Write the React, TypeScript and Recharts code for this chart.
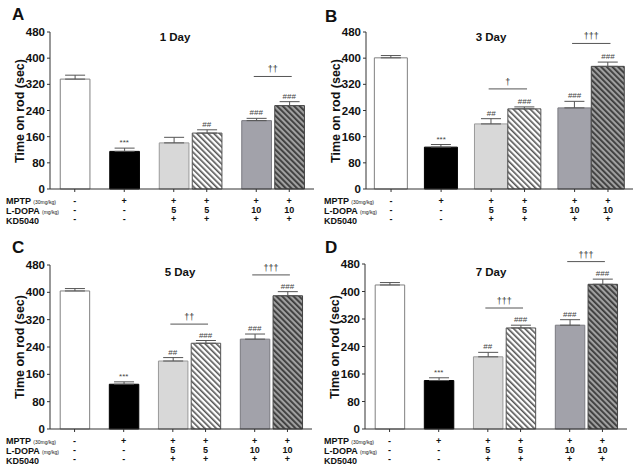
import React from "react";
import {
  ComposedChart,
  Bar,
  Cell,
  XAxis,
  YAxis,
  ErrorBar,
  Scatter,
  ReferenceLine,
} from "recharts";

// treatment table under the x axis
const mptpRow = ["-", "+", "+", "+", "+", "+"];
const ldopaRow = ["-", "-", "5", "5", "10", "10"];
const kdRow = ["-", "-", "+", "+", "+", "+"];
const yTicks = [0, 80, 160, 240, 320, 400, 480];

// time on rod (sec), mean and sem per group
const day1Mean = [336, 115, 141, 171, 209, 255];
const day1Sem = [12, 10, 17, 10, 7, 12];
const day1Sig = ["", "***", "", "##", "###", "###"];
const day1Brackets = [{ a: 4, b: 5, mark: "††", y: 344 }];

const day3Mean = [401, 128, 199, 245, 248, 375];
const day3Sem = [7, 8, 16, 6, 20, 13];
const day3Sig = ["", "***", "##", "###", "###", "###"];
const day3Brackets = [
  { a: 2, b: 3, mark: "†", y: 306 },
  { a: 4, b: 5, mark: "†††", y: 445 },
];

const day5Mean = [404, 131, 199, 251, 263, 390];
const day5Sem = [7, 7, 10, 8, 15, 12];
const day5Sig = ["", "***", "##", "###", "###", "###"];
const day5Brackets = [
  { a: 2, b: 3, mark: "††", y: 307 },
  { a: 4, b: 5, mark: "†††", y: 451 },
];

const day7Mean = [419, 141, 210, 294, 302, 421];
const day7Sem = [7, 8, 13, 8, 16, 15];
const day7Sig = ["", "***", "##", "###", "###", "###"];
const day7Brackets = [
  { a: 2, b: 3, mark: "†††", y: 352 },
  { a: 4, b: 5, mark: "†††", y: 487 },
];

// layout: bar centres on a 0..16 axis measured in half bar widths
const slots = [1.5, 4.5, 7.5, 9.5, 12.5, 14.5];
const fills = ["#ffffff", "#000000", "#d8d8d8", "url(#hatchLight)", "#a2a2aa", "url(#hatchDark)"];
const strokes = ["#808080", "#000000", "#9a9a9a", "#555555", "#7a7a80", "#444444"];

const FONT = "'Liberation Sans', Arial, sans-serif";

const RowTick = ({ x, y, payload }: any) => {
  const i = slots.indexOf(payload.value);
  return (
    <g>
      {[mptpRow, ldopaRow, kdRow].map((row, r) => (
        <text
          key={r}
          x={x}
          y={y + 9 + r * 9}
          textAnchor="middle"
          dominantBaseline="central"
          fontSize={9}
          fontWeight="bold"
          fontFamily={FONT}
          fill="#111"
        >
          {row[i]}
        </text>
      ))}
    </g>
  );
};

const SigMark = (p: any) => {
  if (!p.payload.sig) return <g />;
  return (
    <text
      x={p.cx}
      y={p.cy - 3}
      textAnchor="middle"
      fontSize={8}
      fontFamily={FONT}
      fill="#444"
    >
      {p.payload.sig}
    </text>
  );
};

const DaggerLabel = ({ viewBox, value }: any) => (
  <text
    x={viewBox.x + viewBox.width / 2}
    y={viewBox.y - 4}
    textAnchor="middle"
    fontSize={9}
    fontFamily={FONT}
    fill="#333"
  >
    {value}
  </text>
);

function Panel({ letter, title, mean, sem, sig, brackets, geo }: any) {
  const data = mean.map((m: number, i: number) => ({
    pos: slots[i],
    mean: m,
    err: [0, sem[i]],
    top: m + sem[i],
    sig: sig[i],
  }));
  const h = 236;
  const axisH = 40;
  return (
    <div style={{ position: "absolute", left: geo.x, top: geo.y, width: 318, height: h }}>
      <ComposedChart
        width={318}
        height={h}
        data={data}
        margin={{ top: geo.top, left: geo.axis - 40, right: 318 - geo.right, bottom: h - geo.bottom - axisH }}
      >
        <XAxis
          dataKey="pos"
          type="number"
          domain={[0, 16]}
          ticks={slots}
          interval={0}
          height={axisH}
          tickSize={3}
          tickMargin={0}
          tick={<RowTick />}
          axisLine={{ stroke: "#333" }}
          tickLine={{ stroke: "#333" }}
        />
        <YAxis
          type="number"
          domain={[0, 480]}
          ticks={yTicks}
          interval={0}
          width={40}
          tickSize={3}
          tickMargin={2}
          axisLine={{ stroke: "#333" }}
          tickLine={{ stroke: "#333" }}
          tick={{ fontSize: 11.5, fontWeight: "bold", fill: "#111", fontFamily: FONT }}
        />
        <Bar dataKey="mean" barSize={33} isAnimationActive={false}>
          {data.map((_: any, i: number) => (
            <Cell key={i} fill={fills[i]} stroke={strokes[i]} strokeWidth={1} />
          ))}
          <ErrorBar dataKey="err" width={10} stroke="#555" strokeWidth={1} direction="y" />
        </Bar>
        <Scatter dataKey="top" shape={<SigMark />} isAnimationActive={false} />
        {brackets.map((b: any, k: number) => (
          <ReferenceLine
            key={k}
            ifOverflow="visible"
            segment={[
              { x: slots[b.a] - 0.15, y: b.y },
              { x: slots[b.b] + 0.15, y: b.y },
            ]}
            stroke="#555"
            strokeWidth={1}
            label={<DaggerLabel value={b.mark} />}
          />
        ))}
      </ComposedChart>
      <div
        style={{
          position: "absolute",
          left: geo.yl - 80,
          top: (geo.top + geo.bottom) / 2 - 8,
          width: 160,
          height: 16,
          textAlign: "center",
          transform: "rotate(-90deg)",
          fontSize: 12.5,
          fontWeight: "bold",
          fontFamily: FONT,
          lineHeight: "16px",
          color: "#111",
          whiteSpace: "nowrap",
        }}
      >
        Time on rod (sec)
      </div>
      <div
        style={{
          position: "absolute",
          left: geo.lx,
          top: geo.ly,
          fontSize: 17,
          fontWeight: "bold",
          fontFamily: FONT,
          lineHeight: "17px",
          color: "#111",
        }}
      >
        {letter}
      </div>
      <div
        style={{
          position: "absolute",
          left: geo.tx - 40,
          width: 80,
          textAlign: "center",
          top: geo.ty - 7,
          fontSize: 11.5,
          fontWeight: "bold",
          fontFamily: FONT,
          lineHeight: "14px",
          color: "#111",
        }}
      >
        {title}
      </div>
      <div
        style={{
          position: "absolute",
          left: 6,
          top: geo.bottom + 12 - 4.5,
          fontSize: 9,
          fontWeight: "bold",
          fontFamily: FONT,
          lineHeight: "9px",
          color: "#111",
          whiteSpace: "nowrap",
        }}
      >
        <div>
          MPTP <span style={{ fontSize: 5, fontWeight: "normal" }}>(30mg/kg)</span>
        </div>
        <div>
          L-DOPA <span style={{ fontSize: 5, fontWeight: "normal" }}>(mg/kg)</span>
        </div>
        <div>KD5040</div>
      </div>
    </div>
  );
}

export default function App() {
  return (
    <div style={{ position: "absolute", left: 0, top: 0, width: 637, height: 473, background: "#fff", overflow: "hidden" }}>
      <svg width={0} height={0} style={{ position: "absolute" }}>
        <defs>
          <pattern id="hatchLight" patternUnits="userSpaceOnUse" width={4} height={4} patternTransform="rotate(-45)">
            <rect width={4} height={4} fill="#ffffff" />
            <rect width={1.6} height={4} fill="#555555" />
          </pattern>
          <pattern id="hatchDark" patternUnits="userSpaceOnUse" width={4} height={4} patternTransform="rotate(-45)">
            <rect width={4} height={4} fill="#a0a0a0" />
            <rect width={1.8} height={4} fill="#3a3a3a" />
          </pattern>
        </defs>
      </svg>
      <Panel
        letter="A"
        title="1 Day"
        mean={day1Mean}
        sem={day1Sem}
        sig={day1Sig}
        brackets={day1Brackets}
        geo={{ x: 0, y: 0, axis: 50, right: 314, top: 32, bottom: 189, lx: 12, ly: 6, tx: 175, ty: 37, yl: 20 }}
      />
      <Panel
        letter="B"
        title="3 Day"
        mean={day3Mean}
        sem={day3Sem}
        sig={day3Sig}
        brackets={day3Brackets}
        geo={{ x: 318, y: 0, axis: 48, right: 315, top: 32, bottom: 189, lx: 7, ly: 8, tx: 173, ty: 37, yl: 18 }}
      />
      <Panel
        letter="C"
        title="5 Day"
        mean={day5Mean}
        sem={day5Sem}
        sig={day5Sig}
        brackets={day5Brackets}
        geo={{ x: 0, y: 236, axis: 50, right: 312, top: 29, bottom: 193, lx: 12, ly: 3, tx: 180, ty: 36, yl: 20 }}
      />
      <Panel
        letter="D"
        title="7 Day"
        mean={day7Mean}
        sem={day7Sem}
        sig={day7Sig}
        brackets={day7Brackets}
        geo={{ x: 318, y: 236, axis: 47, right: 309, top: 28, bottom: 193, lx: 7, ly: 3, tx: 173, ty: 36, yl: 17 }}
      />
    </div>
  );
}
